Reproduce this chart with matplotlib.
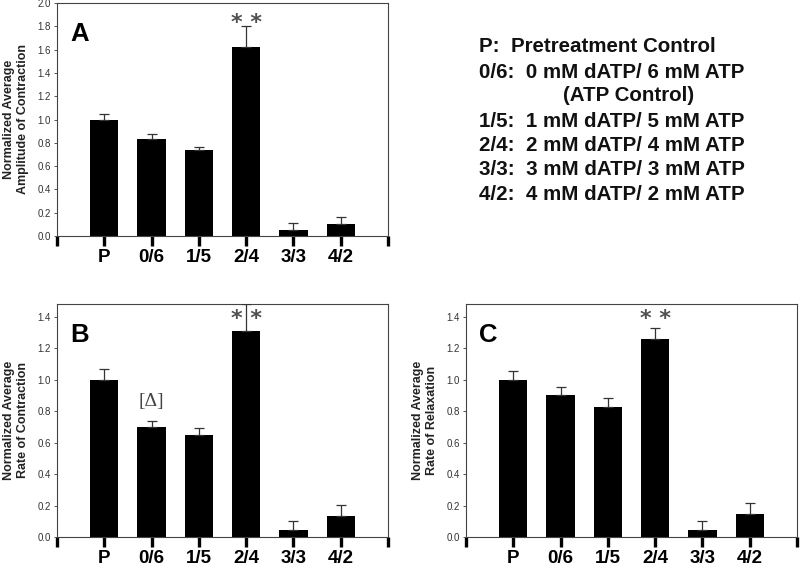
import matplotlib
matplotlib.use('Agg')
import matplotlib.pyplot as plt
import numpy as np

plt.rcParams['font.family'] = ['Liberation Sans', 'DejaVu Sans']

# groups and values
groups = ['P', '0/6', '1/5', '2/4', '3/3', '4/2']

amp_mean = [1.00, 0.83, 0.735, 1.625, 0.055, 0.10]
amp_err = [0.045, 0.045, 0.03, 0.175, 0.06, 0.06]

rate_con_mean = [1.00, 0.70, 0.645, 1.31, 0.045, 0.135]
rate_con_err = [0.065, 0.035, 0.045, 0.17, 0.055, 0.07]

rate_rel_mean = [1.00, 0.90, 0.825, 1.255, 0.045, 0.145]
rate_rel_err = [0.055, 0.05, 0.055, 0.075, 0.055, 0.07]

legend_lines = [
    'P:  Pretreatment Control',
    '0/6:  0 mM dATP/ 6 mM ATP',
    '(ATP Control)',
    '1/5:  1 mM dATP/ 5 mM ATP',
    '2/4:  2 mM dATP/ 4 mM ATP',
    '3/3:  3 mM dATP/ 3 mM ATP',
    '4/2:  4 mM dATP/ 2 mM ATP',
]

W, H = 800, 566
fig = plt.figure(figsize=(8, 5.66), dpi=100)


def make_axes(left, top, right, bottom):
    # pixel box -> figure fraction
    return fig.add_axes([left / W, 1 - bottom / H, (right - left) / W, (bottom - top) / H])


def draw_panel(ax, means, errs, ymax, ystep, letter, ylabel, star_y):
    x = np.arange(1, len(groups) + 1)
    ax.bar(x, means, width=0.6, color='black', zorder=2)
    ax.errorbar(x, means, yerr=[np.zeros(len(errs)), errs], fmt='none',
                ecolor='#333333', elinewidth=0.9, capsize=3.5, capthick=0.9, zorder=3)
    ax.set_xlim(0, 7)
    ax.set_ylim(0, ymax)
    ax.set_yticks(np.arange(0, ymax + 1e-6, ystep))
    ax.yaxis.set_major_formatter(plt.FormatStrFormatter('%.1f'))
    ax.set_xticks(np.arange(0, 8))
    ax.set_xticklabels([''] + groups + [''], fontsize=13.5, fontweight='bold')
    ax.tick_params(axis='x', length=7.5, width=2.4, color='black', pad=1.8, direction='out')
    ax.tick_params(axis='y', length=2.5, width=0.7, color='#555555', labelsize=7,
                   labelcolor='#333333', pad=2)
    for s in ax.spines.values():
        s.set_color('#444444')
        s.set_linewidth(0.8)
    ax.set_ylabel(ylabel, fontsize=9, fontweight='bold', color='#222222', labelpad=6)
    ax.text(0.04, 0.835, letter, transform=ax.transAxes, fontsize=18.5,
            fontweight='bold', ha='left', va='baseline')
    ax.text(4, star_y, '* *', ha='center', va='center', fontsize=16,
            fontweight='bold', family='DejaVu Sans', color='#505050')


axA = make_axes(57, 3, 388, 236)
draw_panel(axA, amp_mean, amp_err, 2.0, 0.2, 'A',
           'Normalized Average\nAmplitude of Contraction', 1.83)

axB = make_axes(57, 304, 388, 537)
draw_panel(axB, rate_con_mean, rate_con_err, 1.48, 0.2, 'B',
           'Normalized Average\nRate of Contraction', 1.385)
axB.text(2, 0.86, '[\u0394]', ha='center', va='center', fontsize=14,
         family='Liberation Serif', color='#444444')

axC = make_axes(466, 304, 797, 537)
draw_panel(axC, rate_rel_mean, rate_rel_err, 1.48, 0.2, 'C',
           'Normalized Average\nRate of Relaxation', 1.385)

# key to the group labels
baselines = [52.5, 78, 101, 127, 151, 175, 200]
for i, line in enumerate(legend_lines):
    xpx = 563 if line.startswith('(') else 479
    fig.text(xpx / W, 1 - baselines[i] / H, line, fontsize=14.8, fontweight='bold',
             ha='left', va='baseline', color='#111111')

fig.savefig('out.png', dpi=100)
